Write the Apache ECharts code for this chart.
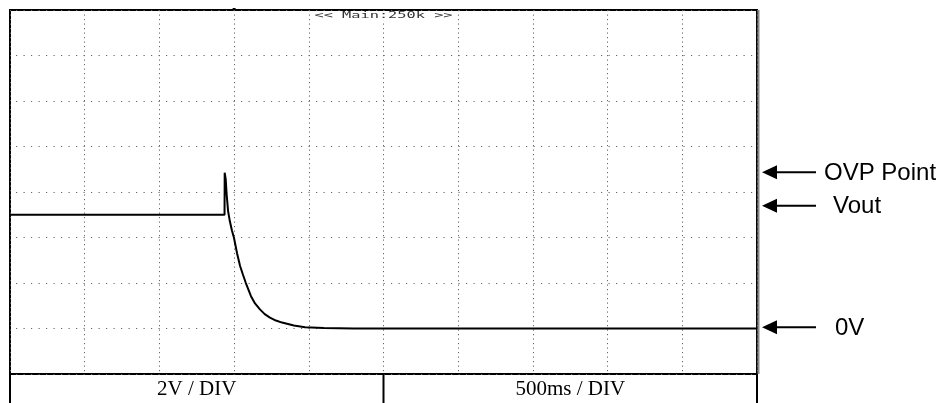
<!DOCTYPE html>
<html>
<head>
<meta charset="utf-8">
<script src="https://cdn.jsdelivr.net/npm/echarts@6/dist/echarts.min.js"></script>
<style>
  html, body { margin: 0; padding: 0; background: #fff; }
  #chart { width: 942px; height: 403px; }
</style>
</head>
<body>
<div id="chart"></div>
<script>
// Scope capture: output voltage during an over-voltage shutdown (2 V/div, 500 ms/div)
const timeMs = [0, 1436, 1437, 1444, 1450, 1460, 1472, 1486, 1499, 1520, 1540, 1560, 1578,
                1613, 1640, 1673, 1705, 1740, 1780, 1821, 1900, 1975, 2100, 2300, 5000];
const volts  = [5.0, 5.0, 6.85, 6.55, 5.9, 5.15, 4.7, 4.3, 3.99, 3.3, 2.75, 2.35, 2.01,
                1.42, 1.1, 0.84, 0.63, 0.48, 0.35, 0.26, 0.13, 0.06, 0.02, 0.0, 0.0];

// Screen scale: 10 horizontal and 8 vertical divisions
const xRange = [0, 5000];
const xStep = 500;
const yRange = [-2, 14];
const yStep = 2;

// Right-hand annotations (arrow level in volts)
const noteLabels = ['OVP Point', 'Vout', '0V'];
const noteLevels = [6.87, 5.4, 0.05];
const noteTextX  = [824, 833, 835];

// Footer captions
const footerLabels = ['2V / DIV', '500ms / DIV'];
const headerLabel = '<< Main:250k >>';

(function () {
  const chart = echarts.init(document.getElementById('chart'), null, { renderer: 'canvas' });

  chart.setOption({
    animation: false,
    backgroundColor: '#fff',
    grid: {
      left: 10, top: 10, width: 747, height: 364,
      show: true, borderColor: '#000', borderWidth: 2, backgroundColor: 'transparent'
    },
    xAxis: {
      type: 'value', min: xRange[0], max: xRange[1], interval: xStep,
      axisLine: { show: false }, axisTick: { show: false }, axisLabel: { show: false },
      splitLine: { show: true, lineStyle: { color: '#666', width: 1, type: [1.2, 3.3] } }
    },
    yAxis: {
      type: 'value', min: yRange[0], max: yRange[1], interval: yStep,
      axisLine: { show: false }, axisTick: { show: false }, axisLabel: { show: false },
      splitLine: { show: true, lineStyle: { color: '#666', width: 1, type: [1.2, 6.3], dashOffset: -6 } }
    },
    series: [{
      type: 'line',
      data: timeMs.map((t, i) => [t, volts[i]]),
      showSymbol: false,
      smooth: false,
      lineStyle: { color: '#000', width: 2 },
      z: 5
    }]
  });

  // Decorations placed through the axes' own pixel conversion
  const px = v => chart.convertToPixel({ xAxisIndex: 0 }, v);
  const py = v => chart.convertToPixel({ yAxisIndex: 0 }, v);

  const xLeft = px(xRange[0]);
  const xRight = px(xRange[1]);
  const xMid = px((xRange[0] + xRange[1]) / 2);
  const yTop = py(yRange[1]);
  const yBottom = py(yRange[0]);

  const graphics = [];

  // Slightly grey double edge on the right of the screen
  graphics.push({
    type: 'line', shape: { x1: xRight + 1.5, y1: yTop, x2: xRight + 1.5, y2: yBottom },
    style: { stroke: '#888', lineWidth: 2 }, z: 10
  });

  // Trigger marker above the screen
  graphics.push({
    type: 'rect', shape: { x: px(1500) - 1.5, y: yTop - 2, width: 3, height: 2 },
    style: { fill: '#000' }, z: 10
  });

  // Header text in the scope's pixel font
  graphics.push({
    type: 'text', x: xMid, y: yTop + 6, scaleX: 1.7, scaleY: 1,
    style: {
      text: headerLabel, fontFamily: 'DejaVu Sans Mono', fontSize: 9,
      fill: '#333', align: 'center', verticalAlign: 'middle', backgroundColor: '#fff'
    },
    z: 10
  });

  // Footer separators and captions
  [xLeft, xMid, xRight].forEach(x => {
    graphics.push({
      type: 'line', shape: { x1: x, y1: yBottom, x2: x, y2: 403 },
      style: { stroke: '#000', lineWidth: 2 }, z: 10
    });
  });
  footerLabels.forEach((txt, i) => {
    const cx = i === 0 ? (xLeft + xMid) / 2 : (xMid + xRight) / 2;
    graphics.push({
      type: 'text', x: cx, y: 389,
      style: {
        text: txt, fontFamily: 'Liberation Serif', fontSize: 21, fill: '#000',
        align: 'center', verticalAlign: 'middle'
      },
      z: 10
    });
  });

  // Arrows and labels on the right
  noteLabels.forEach((txt, i) => {
    const y = py(noteLevels[i]);
    const tip = xRight + 5;
    graphics.push({
      type: 'polygon',
      shape: { points: [[tip, y], [tip + 15, y - 7], [tip + 15, y + 7]] },
      style: { fill: '#000' }, z: 10
    });
    graphics.push({
      type: 'line', shape: { x1: tip + 12, y1: y, x2: tip + 54, y2: y },
      style: { stroke: '#000', lineWidth: 2 }, z: 10
    });
    graphics.push({
      type: 'text', x: noteTextX[i], y: y + 1,
      style: {
        text: txt, fontFamily: 'Liberation Sans', fontSize: 24, fill: '#000',
        align: 'left', verticalAlign: 'middle'
      },
      z: 10
    });
  });

  chart.setOption({ graphic: graphics });
})();
</script>
</body>
</html>
